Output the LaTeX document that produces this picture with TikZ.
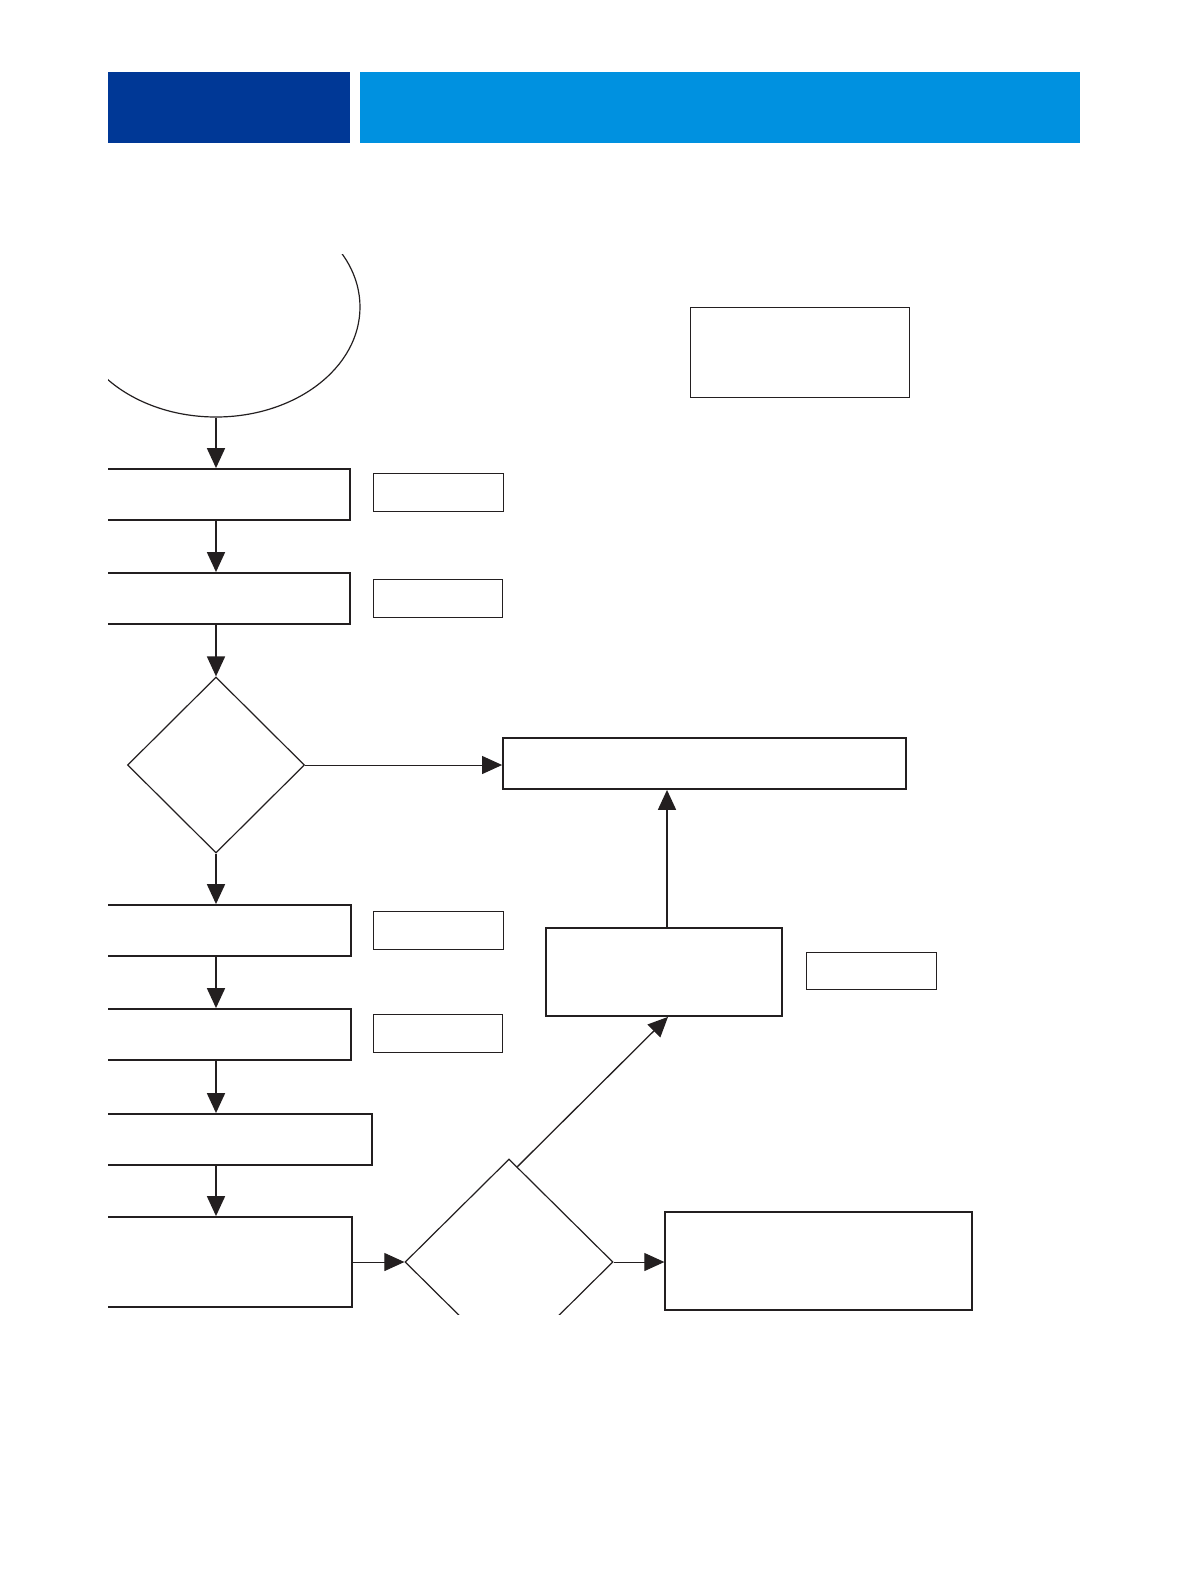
\documentclass[tikz,border=0pt]{standalone}
\usetikzlibrary{shapes.geometric,arrows.meta,calc}
\definecolor{hdrdark}{RGB}{0,56,150}
\definecolor{hdrlight}{RGB}{0,145,224}
\definecolor{ink}{RGB}{35,31,32}
\tikzset{
  thickbox/.style={draw=ink,line width=1.8pt,rectangle,inner sep=0pt},
  thinbox/.style={draw=ink,line width=1pt,rectangle,inner sep=0pt},
  decision/.style={draw=ink,line width=1.2pt,diamond,inner sep=0pt},
  arr/.style={draw=ink,-{Triangle[length=20pt,width=18pt]}},
  hdr/.style={rectangle,inner sep=0pt,draw=none,anchor=north west}
}
\begin{document}
\begin{tikzpicture}[x=1pt,y=-1pt]
\useasboundingbox (0,0) rectangle (1188,1584);
% header bars
\node[hdr,fill=hdrdark,minimum width=242pt,minimum height=71pt] (hdrA) at (108,72) {};
\node[hdr,fill=hdrlight,minimum width=720pt,minimum height=71pt] (hdrB) at (360,72) {};
\begin{scope}
\clip (108,254) rectangle (1188,1314);
% start ellipse
\node[draw=ink,line width=1.2pt,ellipse,inner sep=0pt,minimum width=288pt,minimum height=220pt] (ell) at (216,307) {};
% left column boxes
\node[thickbox,minimum width=268pt,minimum height=51pt] (b1) at (216,494.5) {};
\node[thickbox,minimum width=268pt,minimum height=51pt] (b2) at (216,598.5) {};
\node[decision,minimum width=177pt,minimum height=176pt] (d1) at (216,765) {};
\node[thickbox,minimum width=270pt,minimum height=51pt] (b3) at (216,930.5) {};
\node[thickbox,minimum width=270pt,minimum height=51pt] (b4) at (216,1034.5) {};
\node[thickbox,minimum width=312pt,minimum height=51pt] (b5) at (216,1139.5) {};
\node[thickbox,minimum width=272pt,minimum height=90pt] (b6) at (216,1262) {};
% side boxes
\node[thinbox,minimum width=130pt,minimum height=38pt] (s1) at (438,492) {};
\node[thinbox,minimum width=129pt,minimum height=38pt] (s2) at (437.5,598) {};
\node[thinbox,minimum width=130pt,minimum height=38pt] (s3) at (438,930) {};
\node[thinbox,minimum width=129pt,minimum height=38pt] (s4) at (437.5,1033) {};
\node[thinbox,minimum width=219pt,minimum height=90pt] (tr) at (799.5,352) {};
\node[thickbox,minimum width=403pt,minimum height=51pt] (big) at (704.5,763.5) {};
\node[thickbox,minimum width=236pt,minimum height=88pt] (b8) at (664,972) {};
\node[thinbox,minimum width=130pt,minimum height=37pt] (s9) at (871,970.5) {};
\node[decision,minimum width=208pt,minimum height=206pt] (d2) at (509,1262) {};
\node[draw=ink,line width=1.3pt,rectangle,inner sep=0pt,minimum width=307pt,minimum height=98pt] (b7) at (818.5,1261) {};
% connectors
\draw[arr,line width=1.8pt] (ell.south) -- (b1.north);
\draw[arr,line width=1.8pt] (b1.south) -- (b2.north);
\draw[arr,line width=1.8pt] (b2.south) -- (d1.north);
\draw[arr,line width=1.8pt] (d1.south) -- (b3.north);
\draw[arr,line width=1.8pt] (b3.south) -- (b4.north);
\draw[arr,line width=1.8pt] (b4.south) -- (b5.north);
\draw[arr,line width=1.8pt] (b5.south) -- (b6.north);
\draw[arr,line width=1pt] (d1.east) -- (d1.east -| big.west);
\draw[arr,line width=1pt] (b6.east) -- (d2.west);
\draw[arr,line width=1pt] (d2.east) -- (d2.east -| b7.west);
\coordinate (dstart) at ($(d2.north)!0.08!(d2.east)$);
\coordinate (b8bot) at ($(b8.south)+(4,0)$);
\draw[arr,line width=1.3pt] (dstart) -- (b8bot);
\coordinate (b8top) at ($(b8.north)+(3,0)$);
\draw[arr,line width=1.8pt] (b8top) -- (b8top |- big.south);
\end{scope}
\end{tikzpicture}
\end{document}
